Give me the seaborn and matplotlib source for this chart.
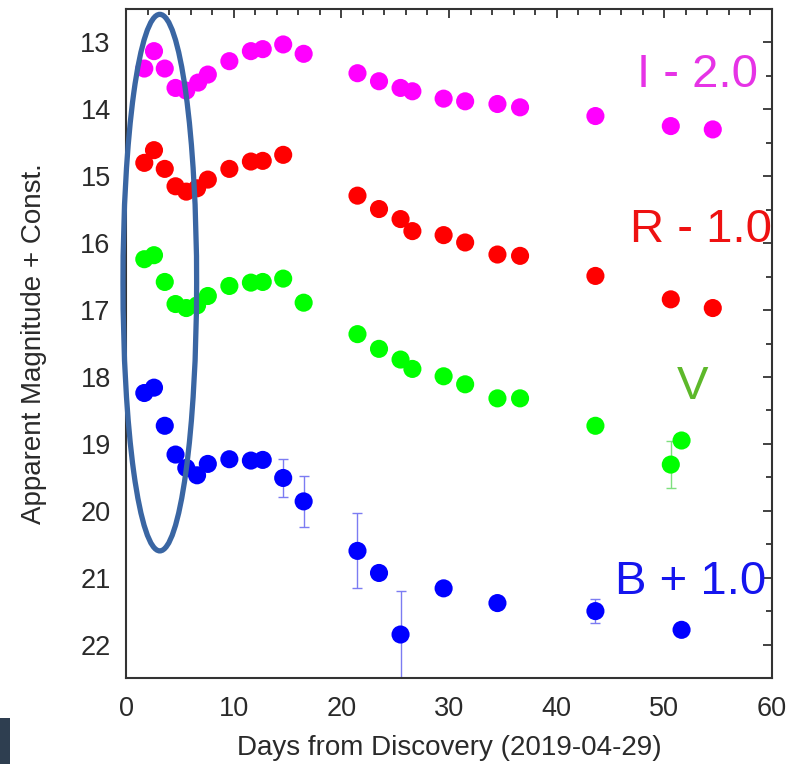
import numpy as np
import pandas as pd
import matplotlib
matplotlib.use("Agg")
import matplotlib.pyplot as plt
from matplotlib.patches import Ellipse, Rectangle
from matplotlib.ticker import MultipleLocator
import seaborn as sns

# ---------------- data ----------------
i_days = [1.7, 2.6, 3.6, 4.6, 5.6, 6.7, 7.6, 9.6, 11.6, 12.7, 14.6, 16.5,
          21.5, 23.5, 25.5, 26.6, 29.5, 31.5, 34.5, 36.6, 43.6, 50.6, 54.5]
i_mag = [13.39, 13.13, 13.39, 13.68, 13.72, 13.60, 13.48, 13.28, 13.13, 13.10, 13.03, 13.17,
         13.46, 13.58, 13.68, 13.73, 13.84, 13.88, 13.92, 13.97, 14.10, 14.25, 14.30]

r_days = [1.7, 2.6, 3.6, 4.6, 5.6, 6.6, 7.6, 9.6, 11.6, 12.7, 14.6,
          21.5, 23.5, 25.5, 26.6, 29.5, 31.5, 34.5, 36.6, 43.6, 50.6, 54.5]
r_mag = [14.80, 14.61, 14.89, 15.15, 15.23, 15.18, 15.05, 14.89, 14.78, 14.77, 14.68,
         15.29, 15.49, 15.64, 15.82, 15.88, 15.99, 16.17, 16.19, 16.49, 16.84, 16.97]

v_days = [1.7, 2.6, 3.6, 4.6, 5.6, 6.6, 7.6, 9.6, 11.6, 12.7, 14.6, 16.5,
          21.5, 23.5, 25.5, 26.6, 29.5, 31.5, 34.5, 36.6, 43.6, 50.6, 51.6]
v_mag = [16.24, 16.18, 16.58, 16.91, 16.97, 16.93, 16.79, 16.64, 16.59, 16.58, 16.53, 16.89,
         17.36, 17.58, 17.74, 17.88, 17.99, 18.11, 18.32, 18.32, 18.73, 19.31, 18.95]

b_days = [1.7, 2.6, 3.6, 4.6, 5.6, 6.6, 7.6, 9.6, 11.6, 12.7, 14.6, 16.5,
          21.5, 23.5, 25.5, 29.5, 34.5, 43.6, 51.6]
b_mag = [18.24, 18.16, 18.73, 19.16, 19.36, 19.47, 19.30, 19.23, 19.25, 19.24, 19.51, 19.86,
         20.60, 20.93, 21.85, 21.16, 21.38, 21.50, 21.78]

# error bars (day, magnitude, error)
b_err_days = [14.6, 16.5, 21.5, 25.5, 43.6]
b_err_mag = [19.51, 19.86, 20.60, 21.85, 21.50]
b_err_size = [0.28, 0.38, 0.56, 0.65, 0.18]
v_err_days = [50.6]
v_err_mag = [19.31]
v_err_size = [0.35]

bands = ["I", "R", "V", "B"]
band_labels = ["I - 2.0", "R - 1.0", "V", "B + 1.0"]
marker_colors = {"I": "#FF00FF", "R": "#FF0000", "V": "#00FF00", "B": "#0000FF"}
label_colors = ["#E633E6", "#EE1111", "#5DB82A", "#1515EE"]
label_pos_days = [47.5, 46.8, 51.2, 45.4]
label_pos_mag = [13.67, 15.98, 18.33, 21.25]

x_label = "Days from Discovery (2019-04-29)"
y_label = "Apparent Magnitude + Const."
x_ticks = [0, 10, 20, 30, 40, 50, 60]
y_ticks = [13, 14, 15, 16, 17, 18, 19, 20, 21, 22]

frames = []
for b, d, m in [("I", i_days, i_mag), ("R", r_days, r_mag),
                ("V", v_days, v_mag), ("B", b_days, b_mag)]:
    frames.append(pd.DataFrame({"day": d, "mag": m, "band": b}))
df = pd.concat(frames, ignore_index=True)

# ---------------- figure ----------------
sns.set_theme(style="white")
plt.rcParams["font.family"] = ["Liberation Sans", "DejaVu Sans"]

fig = plt.figure(figsize=(7.92, 7.64), dpi=100)
ax = fig.add_axes([126 / 792, 86 / 764, 646 / 792, 669 / 764])

# error bars first (under the markers)
ax.errorbar(b_err_days, b_err_mag, yerr=b_err_size, fmt="none",
            ecolor="#7C7CF2", elinewidth=1.0, capsize=3.5, capthick=1.0, zorder=2)
ax.errorbar(v_err_days, v_err_mag, yerr=v_err_size, fmt="none",
            ecolor="#7EE07E", elinewidth=1.0, capsize=3.5, capthick=1.0, zorder=2)

sns.scatterplot(data=df, x="day", y="mag", hue="band", palette=marker_colors,
                s=170, linewidth=0, edgecolor="none", legend=False, ax=ax, zorder=3)

ax.set_xlim(0, 60)
ax.set_ylim(22.5, 12.5)
ax.set_xticks(x_ticks)
ax.set_yticks(y_ticks)
ax.xaxis.set_minor_locator(MultipleLocator(2))
ax.yaxis.set_minor_locator(MultipleLocator(0.5))
ax.tick_params(which="both", direction="in", top=True, right=True,
               color="#333333", width=1.3)
ax.tick_params(which="major", length=6.5, labelsize=19.5, labelcolor="#2a2a2a")
ax.tick_params(axis="y", which="major", pad=11)
ax.tick_params(axis="x", which="major", pad=13)
ax.tick_params(which="minor", length=4)
for sp in ax.spines.values():
    sp.set_color("#333333")
    sp.set_linewidth(1.5)

ax.set_xlabel(x_label, fontsize=20, color="#2a2a2a", labelpad=9)
ax.set_ylabel(y_label, fontsize=20, color="#2a2a2a", labelpad=24)

for lab, col, xd, ym in zip(band_labels, label_colors, label_pos_days, label_pos_mag):
    ax.text(xd, ym, lab, color=col, fontsize=34, ha="left", va="baseline",
            zorder=5, clip_on=False)

# highlight ellipse
ax.add_patch(Ellipse((3.14, 16.59), width=6.84, height=8.02, fill=False,
                     edgecolor="#3A66A3", linewidth=3.8, zorder=6, clip_on=False))

# dark block at bottom-left corner
fig.patches.append(Rectangle((0, 0), 10 / 792, 46 / 764, transform=fig.transFigure,
                             facecolor="#2E3E50", edgecolor="none", zorder=10))

fig.savefig("out.png", dpi=100)
